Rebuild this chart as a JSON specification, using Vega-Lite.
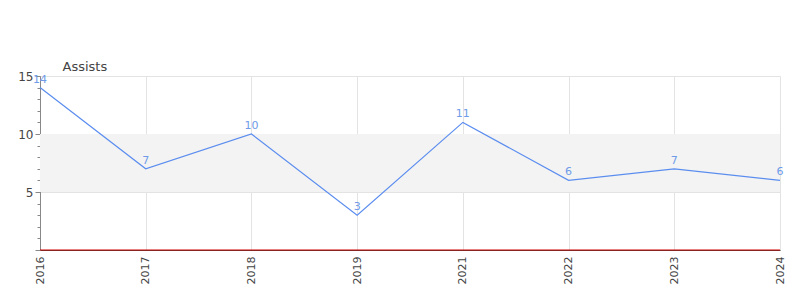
{
  "$schema": "https://vega.github.io/schema/vega-lite/v6.json",
  "width": 740,
  "height": 174,
  "autosize": {"type": "none"},
  "padding": {"left": 40, "top": 76, "right": 20, "bottom": 50},
  "background": "white",
  "config": {"view": {"stroke": null}, "font": "DejaVu Sans"},
  "datasets": {
    "pts": [
      {"year": "2016", "assists": 14},
      {"year": "2017", "assists": 7},
      {"year": "2018", "assists": 10},
      {"year": "2019", "assists": 3},
      {"year": "2021", "assists": 11},
      {"year": "2022", "assists": 6},
      {"year": "2023", "assists": 7},
      {"year": "2024", "assists": 6}
    ],
    "band": [{"lo": 5, "hi": 10}]
  },
  "layer": [
    {
      "data": {"name": "band"},
      "mark": {"type": "rect", "color": "#f3f3f3"},
      "encoding": {
        "y": {"field": "lo", "type": "quantitative", "scale": {"domain": [0, 15], "nice": false},
          "axis": {"orient": "left", "values": [0,1,2,3,4,5,6,7,8,9,10,11,12,13,14,15], "labels": false, "grid": false, "domain": false, "tickSize": 3, "tickColor": "#888", "title": null}},
        "y2": {"field": "hi"}
      }
    },
    {
      "data": {"name": "pts"},
      "layer": [
        {
          "mark": {"type": "line", "color": "#5b8def", "strokeWidth": 1.2},
          "encoding": {
            "x": {"field": "year", "type": "ordinal", "sort": null,
              "scale": {"type": "point", "padding": 0},
              "axis": {"title": null, "labelAngle": -90, "labelFontSize": 11, "labelColor": "#444", "labelPadding": 6, "tickSize": 0, "domainColor": "#444", "grid": true, "gridColor": "#e3e3e3"}},
            "y": {"field": "assists", "type": "quantitative", "scale": {"domain": [0, 15], "nice": false},
              "axis": {"orient": "left", "values": [0, 5, 10, 15], "labelExpr": "datum.value == 0 ? '' : datum.label", "title": "Assists", "titleAngle": 0, "titleX": 22, "titleY": -6, "titleAlign": "left", "titleBaseline": "alphabetic", "titleFontSize": 13, "titleFontWeight": "normal", "titleColor": "#444", "labelFontSize": 12, "labelColor": "#444", "labelPadding": 2, "tickSize": 5, "tickColor": "#888", "domainColor": "#888", "grid": true, "gridColor": "#e3e3e3"}}
          }
        },
        {
          "mark": {"type": "text", "color": "#6f9be8", "fontSize": 11, "dy": -8},
          "encoding": {
            "x": {"field": "year", "type": "ordinal", "sort": null},
            "y": {"field": "assists", "type": "quantitative"},
            "text": {"field": "assists", "type": "quantitative"}
          }
        }
      ]
    },
    {
      "data": {"values": [{"z": 0}]},
      "mark": {"type": "rule", "color": "#d00000", "strokeWidth": 1},
      "encoding": {"y": {"field": "z", "type": "quantitative", "axis": null}}
    }
  ],
  "resolve": {"axis": {"y": "independent"}}
}
